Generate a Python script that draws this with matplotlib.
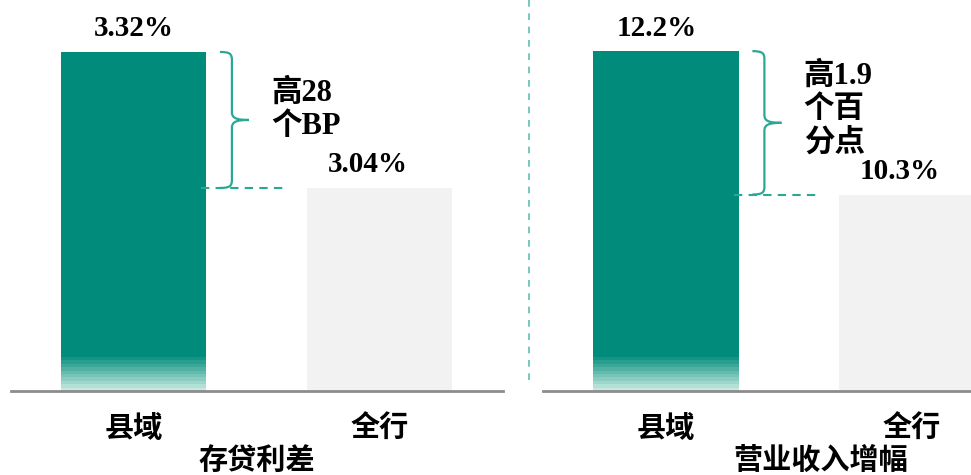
import matplotlib.pyplot as plt
import numpy as np
from matplotlib.path import Path
from matplotlib.patches import PathPatch
from matplotlib.transforms import IdentityTransform, blended_transform_factory
from matplotlib.lines import Line2D
from matplotlib.colors import to_rgb

plt.rcParams['font.family'] = ['Liberation Serif', 'Noto Sans CJK SC']

# data
categories = ['县域', '全行']
spread_values = [3.32, 3.04]
spread_labels = ['3.32%', '3.04%']
spread_note = '高28\n个BP'
spread_title = '存贷利差'
growth_values = [12.2, 10.3]
growth_labels = ['12.2%', '10.3%']
growth_note = '高1.9\n个百\n分点'
growth_title = '营业收入增幅'

TEAL = '#008b7a'
FADE = '#c6e8e0'
GRAY = '#f2f2f2'
BRACE = '#2aa894'
AXIS = '#8c8c8c'

W, H = 971, 475
BASE_PX = 391
fig = plt.figure(figsize=(W / 100, H / 100), dpi=100)


def draw_brace(ax, x, y_top, y_bot):
    # curly brace drawn in pixel space
    xs, yt = ax.transData.transform((x, y_top))
    _, yb = ax.transData.transform((x, y_bot))
    ym = (yt + yb) / 2
    hook, tip, r = 12, 17, 8
    verts = [(xs - hook, yt), (xs - 2, yt), (xs, yt - 2), (xs, yt - r),
             (xs, ym + r),
             (xs, ym + 2), (xs + 4, ym), (xs + tip, ym),
             (xs + tip, ym),
             (xs + 4, ym), (xs, ym - 2), (xs, ym - r),
             (xs, yb + r),
             (xs, yb + 2), (xs - 2, yb), (xs - hook, yb)]
    codes = [Path.MOVETO, Path.CURVE4, Path.CURVE4, Path.CURVE4,
             Path.LINETO,
             Path.CURVE4, Path.CURVE4, Path.CURVE4,
             Path.MOVETO,
             Path.CURVE4, Path.CURVE4, Path.CURVE4,
             Path.LINETO,
             Path.CURVE4, Path.CURVE4, Path.CURVE4]
    fig.add_artist(PathPatch(Path(verts, codes), fill=False, edgecolor=BRACE,
                             lw=1.6, transform=IdentityTransform()))


def make_panel(left_px, values, ylim, labels, note, title, title_x, label_dx):
    ax = fig.add_axes([left_px / W, (H - BASE_PX) / H, 492 / W, BASE_PX / H])
    ax.set_xlim(-0.5, 1.5)
    ax.set_ylim(*ylim)
    base = ylim[0]
    width = 0.59
    heights = [v - base for v in values]
    ax.bar([0, 1], heights, bottom=base, width=width, color=[TEAL, GRAY])

    # fade at the bottom of the teal bar
    fade_h = 34 * (ylim[1] - ylim[0]) / BASE_PX
    n = 10
    c0, c1 = np.array(to_rgb(FADE)), np.array(to_rgb(TEAL))
    for i in range(n):
        c = c0 + (c1 - c0) * (i / n)
        ax.bar(0, fade_h / n, bottom=base + i * fade_h / n, width=width, color=c)

    for i, (v, lbl) in enumerate(zip(values, labels)):
        ax.annotate(lbl, (i, v), xytext=(label_dx[i], 23), textcoords='offset pixels',
                    ha='center', va='center', fontsize=21, weight='bold')

    trans = blended_transform_factory(ax.transData, ax.transAxes)
    for i, cat in enumerate(categories):
        ax.text(i, -38 / BASE_PX, cat, transform=trans, ha='center', va='center',
                fontsize=21, weight='bold')
    ax.text(title_x, -70 / BASE_PX, title, transform=trans, ha='center', va='center',
            fontsize=21, weight='bold')

    # gap annotation
    edge = width / 2
    ax.plot([edge - 0.02, edge + 0.33], [values[1], values[1]], color=BRACE,
            lw=1.5, ls=(0, (4, 3)))
    draw_brace(ax, 0.40, values[0], values[1])
    ax.text(0.56, 0.72, note, transform=trans, ha='left', va='center',
            fontsize=22, weight='bold', linespacing=1.2)

    for s in ['top', 'left', 'right']:
        ax.spines[s].set_visible(False)
    ax.spines['bottom'].set_color(AXIS)
    ax.spines['bottom'].set_linewidth(2)
    ax.set_xticks([])
    ax.set_yticks([])
    ax.patch.set_alpha(0)
    return ax


make_panel(10.5, spread_values, (2.622, 3.427), spread_labels, spread_note,
           spread_title, 0.50, [0, -12])
make_panel(543, growth_values, (7.696, 12.878), growth_labels, growth_note,
           growth_title, 0.63, [-9, -12])

# divider between the panels
fig.add_artist(Line2D([529 / W, 529 / W], [1, (H - 385) / H], color='#5cc0b0',
                      lw=1.2, ls=(0, (4, 4))))

fig.savefig('out.png', dpi=100)
